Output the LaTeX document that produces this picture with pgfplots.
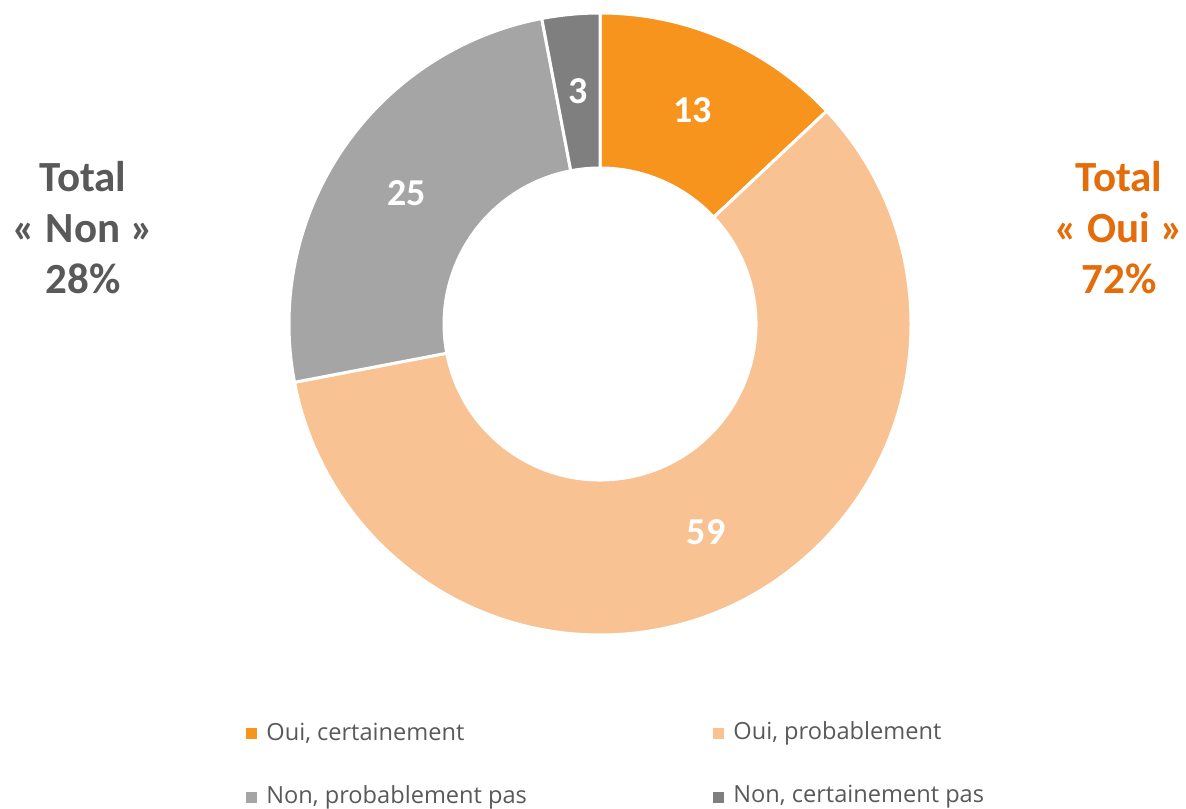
\documentclass[border=0pt]{standalone}
\usepackage{pgfplots}
\pgfplotsset{compat=1.18}
\usepackage{pgfplotstable}
\usepackage{fontspec}
\setmainfont{Carlito}
\newfontfamily\legfont{Open Sans}
\definecolor{c1}{HTML}{F7941D}
\definecolor{c2}{HTML}{F9C293}
\definecolor{c3}{HTML}{A5A5A5}
\definecolor{c4}{HTML}{7F7F7F}
\definecolor{txtgray}{HTML}{595959}
\definecolor{txtorange}{HTML}{E46C0A}
\protected\def\lbl#1{{\bfseries\fontsize{19}{22.8}\selectfont #1}}

\pgfplotstableread[col sep=semicolon]{
label;value;start;end;col
Oui, certainement;13;0;13;c1
Oui, probablement;59;13;72;c2
Non, probablement pas;25;72;97;c3
Non, certainement pas;3;97;100;c4
}\data

\begin{document}
\begin{tikzpicture}
\useasboundingbox (0,0) rectangle (593pt,404pt);
\begin{axis}[x=0.5pt,y=0.5pt,xmin=0,xmax=1186,ymin=0,ymax=808,
  hide axis,clip=false,at={(0,0)},anchor=south west]
\pgfplotsinvokeforeach{0,1,2,3}{
  \pgfplotstablegetelem{#1}{start}\of\data \edef\s{\pgfplotsretval}
  \pgfplotstablegetelem{#1}{end}\of\data \edef\e{\pgfplotsretval}
  \pgfplotstablegetelem{#1}{value}\of\data \edef\v{\pgfplotsretval}
  \pgfplotstablegetelem{#1}{col}\of\data \edef\c{\pgfplotsretval}
  \pgfmathsetmacro\sa{90-3.6*\s}
  \pgfmathsetmacro\ea{90-3.6*\e}
  \pgfmathsetmacro\ma{90-1.8*(\s+\e)}
  \edef\tmp{\noexpand\filldraw[fill=\c,draw=white,line width=1.5pt]
    ([shift={(\sa:155.5pt)}]axis cs:600,484) arc[start angle=\sa,end angle=\ea,radius=155.5pt]
    -- ([shift={(\ea:78pt)}]axis cs:600,484) arc[start angle=\ea,end angle=\sa,radius=78pt] -- cycle;
    \noexpand\node[text=white] at ([shift={(\ma:116.75pt)}]axis cs:600,484) {\noexpand\lbl{\v}};}
  \tmp
}
% totals
\node[align=center,text=txtgray,font=\bfseries\fontsize{21.5}{25.5}\selectfont] at (axis cs:83,580) {Total\\«~Non~»\\28\%};
\node[align=center,text=txtorange,font=\bfseries\fontsize{21.5}{25.5}\selectfont] at (axis cs:1119,580) {Total\\«~Oui~»\\72\%};
% legend
\fill[c1] (axis cs:246,69) rectangle (axis cs:257,80);
\fill[c2] (axis cs:713,69) rectangle (axis cs:724,80);
\fill[c3] (axis cs:246,5) rectangle (axis cs:257,16);
\fill[c4] (axis cs:713,5) rectangle (axis cs:724,16);
\node[anchor=west,text=txtgray,font=\legfont\fontsize{11.8}{13}\selectfont,inner sep=0pt] at (axis cs:266,75) {Oui, certainement};
\node[anchor=west,text=txtgray,font=\legfont\fontsize{11.8}{13}\selectfont,inner sep=0pt] at (axis cs:733,75) {Oui, probablement};
\node[anchor=west,text=txtgray,font=\legfont\fontsize{11.8}{13}\selectfont,inner sep=0pt] at (axis cs:266,11) {Non, probablement pas};
\node[anchor=west,text=txtgray,font=\legfont\fontsize{11.8}{13}\selectfont,inner sep=0pt] at (axis cs:733,11) {Non, certainement pas};
\end{axis}
\end{tikzpicture}
\end{document}
